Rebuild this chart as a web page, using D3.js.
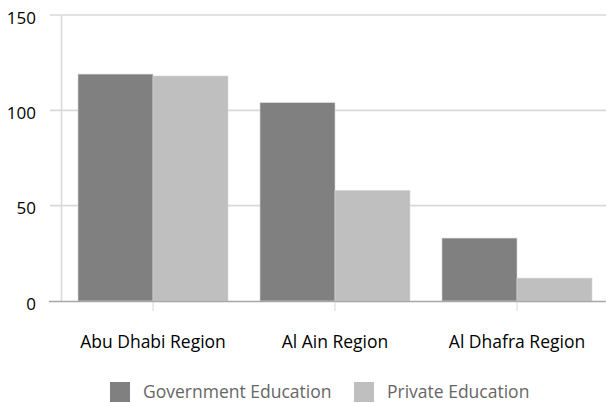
<!DOCTYPE html>
<html><head><meta charset="utf-8">
<script src="https://cdn.jsdelivr.net/npm/d3@7"></script>
<style>body{margin:0;background:#fff;}svg{display:block;font-family:"Open Sans","Noto Sans",sans-serif;}</style>
</head><body>
<svg id="c" width="607" height="403"></svg>
<script>
const categories = ["Abu Dhabi Region", "Al Ain Region", "Al Dhafra Region"];
const seriesNames = ["Government Education", "Private Education"];
const governmentValues = [119, 104, 33];
const privateValues = [118, 58, 12];
const yTicks = [0, 50, 100, 150];
const colors = ["#808080", "#bfbfbf"];

const svg = d3.select("#c");
const x0 = d3.scaleBand().domain(categories).range([62, 608]).paddingInner(0).paddingOuter(0);
const x1 = d3.scaleBand().domain(seriesNames).range([16, x0.bandwidth() - 16]);
const y = d3.scaleLinear().domain([0, 150]).range([301, 15]);
const color = d3.scaleOrdinal().domain(seriesNames).range(colors);

// gridlines
svg.append("g").selectAll("line").data(yTicks.filter(d => d > 0)).join("line")
  .attr("x1", 50).attr("x2", 606).attr("y1", d => y(d)).attr("y2", d => y(d))
  .attr("stroke", "#d9d9d9").attr("stroke-width", 1.6);
// vertical axis line
svg.append("line").attr("x1", 61.5).attr("x2", 61.5).attr("y1", y(150)).attr("y2", y(0))
  .attr("stroke", "#d9d9d9").attr("stroke-width", 1.6);

// y labels
svg.append("g").selectAll("text").data(yTicks).join("text")
  .attr("x", 36).attr("y", d => y(d)).attr("dy", "0.5em").attr("text-anchor", "end")
  .attr("font-size", 17).attr("fill", "#000").text(d => d);

// bars
const rows = categories.map((c, i) => ({cat: c, vals: [governmentValues[i], privateValues[i]]}));
svg.append("g").selectAll("g").data(rows).join("g")
  .attr("transform", d => `translate(${x0(d.cat)},0)`)
  .selectAll("rect").data(d => d.vals.map((v, j) => ({s: seriesNames[j], v})))
  .join("rect")
  .attr("x", d => x1(d.s)).attr("width", x1.bandwidth())
  .attr("y", d => y(d.v)).attr("height", d => y(0) - y(d.v))
  .attr("fill", d => color(d.s))
  .attr("stroke", "#d6d6d6").attr("stroke-width", 0.6);

// x axis
svg.append("line").attr("x1", 49).attr("x2", 606).attr("y1", 301.5).attr("y2", 301.5)
  .attr("stroke", "#a6a6a6").attr("stroke-width", 1.4);
svg.append("g").selectAll("line").data(categories).join("line")
  .attr("x1", d => x0(d) + x0.bandwidth() / 2).attr("x2", d => x0(d) + x0.bandwidth() / 2)
  .attr("y1", 302).attr("y2", 311).attr("stroke", "#d9d9d9").attr("stroke-width", 1);
svg.append("g").selectAll("text").data(categories).join("text")
  .attr("x", d => x0(d) + x0.bandwidth() / 2).attr("y", 348).attr("text-anchor", "middle")
  .attr("font-size", 17.5).attr("fill", "#000").text(d => d);

// legend
const legendX = [110, 354];
const lg = svg.append("g").selectAll("g").data(seriesNames).join("g")
  .attr("transform", (d, i) => `translate(${legendX[i]},382)`);
lg.append("rect").attr("width", 20).attr("height", 20).attr("fill", d => color(d));
lg.append("text").attr("x", 33).attr("y", 10).attr("dy", "0.36em")
  .attr("font-size", 17.5).attr("fill", "#666").text(d => d);
</script>
</body></html>
